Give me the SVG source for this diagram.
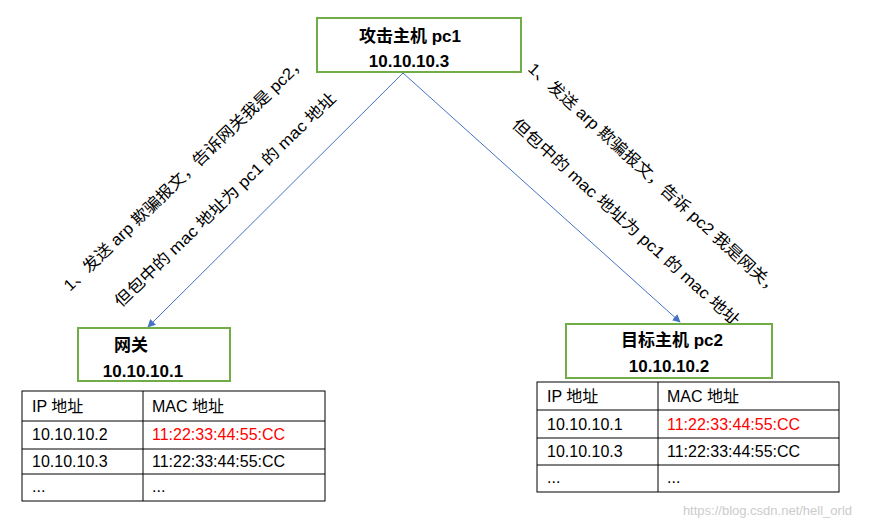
<svg xmlns="http://www.w3.org/2000/svg" width="869" height="526" viewBox="0 0 869 526">
<style>
.box{fill:#fff;stroke:#70AD47;stroke-width:2}
.t{font-family:"Liberation Sans","Noto Sans CJK SC",sans-serif;font-size:16px;fill:#000}
.b{font-weight:bold;font-size:17px}
.cell{fill:none;stroke:#000;stroke-width:1}
.lbl{font-family:"Liberation Sans","Noto Sans CJK SC",sans-serif;font-size:16px;fill:#000}
.red{fill:#FF0000}
</style>
<defs><marker id="ah" viewBox="0 0 10 10" refX="9" refY="5" markerWidth="8" markerHeight="8" orient="auto" markerUnits="userSpaceOnUse"><path d="M0,0L10,5L0,10z" fill="#4472C4"/></marker></defs>
<rect width="869" height="526" fill="#fff"/>
<g id="connectors" stroke="#4472C4" stroke-width="1" fill="none">
<line x1="403" y1="73" x2="148" y2="327" marker-end="url(#ah)"/>
<line x1="403" y1="73" x2="680" y2="322" marker-end="url(#ah)"/>
</g>
<g id="labels">
<text class="lbl" transform="translate(70,292) rotate(-44)" textLength="330" lengthAdjust="spacingAndGlyphs">1、发送 arp 欺骗报文，告诉网关我是 pc2，</text>
<text class="lbl" transform="translate(121,308) rotate(-44)" textLength="300" lengthAdjust="spacingAndGlyphs">但包中的 mac 地址为 pc1 的 mac 地址</text>
<text class="lbl" transform="translate(527,70) rotate(42.5)" textLength="335" lengthAdjust="spacingAndGlyphs">1、发送 arp 欺骗报文，告诉 pc2 我是网关，</text>
<text class="lbl" transform="translate(511,126) rotate(42)" textLength="300" lengthAdjust="spacingAndGlyphs">但包中的 mac 地址为 pc1 的 mac 地址</text>
</g>
<g id="attacker">
<rect class="box" x="317" y="18" width="204" height="54"/>
<text class="t b" x="410" y="42" text-anchor="middle">攻击主机 pc1</text>
<text class="t b" x="409" y="67" text-anchor="middle">10.10.10.3</text>
</g>
<g id="gateway">
<rect class="box" x="78" y="328" width="152" height="53"/>
<text class="t b" x="131" y="351" text-anchor="middle">网关</text>
<text class="t b" x="143" y="377" text-anchor="middle">10.10.10.1</text>
</g>
<g id="target">
<rect class="box" x="566" y="324" width="206" height="54"/>
<text class="t b" x="672" y="346" text-anchor="middle">目标主机 pc2</text>
<text class="t b" x="669" y="372" text-anchor="middle">10.10.10.2</text>
</g>
<g id="table-left">
<rect class="cell" x="22" y="391" width="303" height="110"/>
<line class="cell" x1="143" y1="391" x2="143" y2="501"/>
<line class="cell" x1="22" y1="421" x2="325" y2="421"/>
<line class="cell" x1="22" y1="449" x2="325" y2="449"/>
<line class="cell" x1="22" y1="474" x2="325" y2="474"/>
<text class="t" x="32" y="412">IP 地址</text><text class="t" x="152" y="412">MAC 地址</text>
<text class="t" x="32" y="440">10.10.10.2</text><text class="t red" x="152" y="440">11:22:33:44:55:CC</text>
<text class="t" x="32" y="467">10.10.10.3</text><text class="t" x="152" y="467">11:22:33:44:55:CC</text>
<text class="t" x="32" y="492">...</text><text class="t" x="152" y="492">...</text>
</g>
<g id="table-right">
<rect class="cell" x="537" y="382" width="302" height="110"/>
<line class="cell" x1="658" y1="382" x2="658" y2="492"/>
<line class="cell" x1="537" y1="410" x2="839" y2="410"/>
<line class="cell" x1="537" y1="438" x2="839" y2="438"/>
<line class="cell" x1="537" y1="465" x2="839" y2="465"/>
<text class="t" x="547" y="402">IP 地址</text><text class="t" x="667" y="402">MAC 地址</text>
<text class="t" x="547" y="430">10.10.10.1</text><text class="t red" x="667" y="430">11:22:33:44:55:CC</text>
<text class="t" x="547" y="457">10.10.10.3</text><text class="t" x="667" y="457">11:22:33:44:55:CC</text>
<text class="t" x="547" y="483">...</text><text class="t" x="667" y="483">...</text>
</g>
<text x="852" y="515" text-anchor="end" style="font-family:'Liberation Sans',sans-serif;font-size:13px;fill:#ccc">https://blog.csdn.net/hell_orld</text>
</svg>
